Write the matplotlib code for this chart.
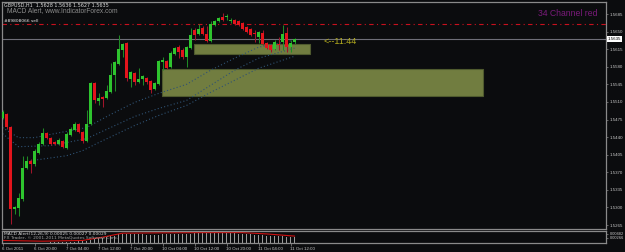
import numpy as np
import matplotlib
matplotlib.use("Agg")
import matplotlib.pyplot as plt
from matplotlib.patches import Rectangle
from matplotlib.transforms import blended_transform_factory

# GBPUSD H1 candles (open, high, low, close), 6 Oct 2011 12:00 ... 11 Oct 2011
opens = [1.5479, 1.5487, 1.5461, 1.5297, 1.5299, 1.5317, 1.5379, 1.5393, 1.5387, 1.5409,
         1.5427, 1.5449, 1.5439, 1.5431, 1.5427, 1.5433, 1.5419, 1.5445, 1.5455, 1.5467,
         1.5451, 1.5433, 1.5467, 1.5547, 1.5511, 1.5519, 1.5517, 1.5529, 1.5563, 1.5585,
         1.5613, 1.5627, 1.5555, 1.5567, 1.5549, 1.5555, 1.5557, 1.5551, 1.5535, 1.5545,
         1.5589, 1.5591, 1.5579, 1.5605, 1.5619, 1.5613, 1.5599, 1.5617, 1.5653, 1.5645,
         1.5657, 1.5645, 1.5631, 1.5663, 1.5671, 1.5679, 1.5679, 1.5671, 1.5673, 1.5671,
         1.5667, 1.5659, 1.5655, 1.5647, 1.5639, 1.5647, 1.5627, 1.5623, 1.5615, 1.5625,
         1.5629, 1.5647, 1.5619, 1.5629]
highs = [1.5493, 1.5489, 1.5463, 1.5303, 1.5329, 1.5403, 1.5403, 1.5397, 1.5417, 1.5431,
         1.5459, 1.5451, 1.5441, 1.5433, 1.5439, 1.5435, 1.5451, 1.5461, 1.5471, 1.5469,
         1.5453, 1.5493, 1.5549, 1.5549, 1.5527, 1.5521, 1.5543, 1.5587, 1.5591, 1.5643,
         1.5627, 1.5629, 1.5571, 1.5569, 1.5577, 1.5563, 1.5559, 1.5553, 1.5549, 1.5593,
         1.5599, 1.5593, 1.5611, 1.5619, 1.5623, 1.5617, 1.5621, 1.5657, 1.5657, 1.5665,
         1.5661, 1.5661, 1.5671, 1.5673, 1.5679, 1.5687, 1.5685, 1.5677, 1.5675, 1.5673,
         1.5669, 1.5661, 1.5657, 1.5653, 1.5651, 1.5653, 1.5629, 1.5625, 1.5633, 1.5639,
         1.5663, 1.5659, 1.5633, 1.5637]
lows = [1.5477, 1.5457, 1.5267, 1.5287, 1.5283, 1.5313, 1.5377, 1.5369, 1.5383, 1.5407,
        1.5425, 1.5437, 1.5425, 1.5425, 1.5425, 1.5419, 1.5417, 1.5443, 1.5453, 1.5449,
        1.5429, 1.5431, 1.5465, 1.5507, 1.5503, 1.5499, 1.5515, 1.5527, 1.5531, 1.5583,
        1.5599, 1.5551, 1.5539, 1.5543, 1.5547, 1.5543, 1.5545, 1.5527, 1.5533, 1.5543,
        1.5573, 1.5575, 1.5577, 1.5603, 1.5597, 1.5595, 1.5579, 1.5615, 1.5633, 1.5643,
        1.5643, 1.5629, 1.5629, 1.5661, 1.5669, 1.5671, 1.5673, 1.5667, 1.5663, 1.5661,
        1.5653, 1.5647, 1.5641, 1.5629, 1.5627, 1.5623, 1.5615, 1.5609, 1.5613, 1.5613,
        1.5613, 1.5609, 1.5609, 1.5625]
closes = [1.5491, 1.5461, 1.5297, 1.5301, 1.5319, 1.5379, 1.5393, 1.5387, 1.5413, 1.5427,
          1.5449, 1.5439, 1.5427, 1.5427, 1.5435, 1.5421, 1.5447, 1.5457, 1.5467, 1.5451,
          1.5433, 1.5467, 1.5547, 1.5513, 1.5517, 1.5515, 1.5531, 1.5563, 1.5589, 1.5615,
          1.5625, 1.5557, 1.5569, 1.5549, 1.5555, 1.5561, 1.5549, 1.5533, 1.5547, 1.5591,
          1.5593, 1.5577, 1.5607, 1.5617, 1.5609, 1.5599, 1.5619, 1.5643, 1.5643, 1.5655,
          1.5645, 1.5631, 1.5665, 1.5671, 1.5677, 1.5673, 1.5681, 1.5673, 1.5665, 1.5663,
          1.5655, 1.5649, 1.5643, 1.5645, 1.5649, 1.5625, 1.5617, 1.5613, 1.5629, 1.5623,
          1.5645, 1.5619, 1.5627, 1.5635]

# dotted channel lines (bar index, price)
ch_top_x = [0, 4, 8, 13, 21, 27, 33, 39, 46, 52, 58, 64, 73]
ch_top_y = [1.5459, 1.5439, 1.5439, 1.5447, 1.5459, 1.5485, 1.5509, 1.5527, 1.5545, 1.5573, 1.5597, 1.5619, 1.5633]
ch_mid_x = [0, 4, 12, 21, 27, 33, 39, 46, 52, 58, 64, 73]
ch_mid_y = [1.5447, 1.5421, 1.5423, 1.5437, 1.5459, 1.5481, 1.5497, 1.5513, 1.5543, 1.5573, 1.5597, 1.5617]
ch_low_x = [7, 16, 20, 24, 33, 39, 46, 52, 58, 64, 73]
ch_low_y = [1.5393, 1.5403, 1.5413, 1.5429, 1.5463, 1.5483, 1.5503, 1.5529, 1.5553, 1.5577, 1.5601]

# zones: (start bar, end bar, top price, bottom price)
zones = [(47.9, 76.9, 1.5625, 1.5605),
         (39.9, 120.1, 1.5575, 1.5521)]

sell_level = 1.5665
last_price = 1.5635

price_ticks = [1.5685, 1.5650, 1.5615, 1.5580, 1.5545, 1.5510, 1.5475, 1.5440,
               1.5405, 1.5370, 1.5335, 1.5300, 1.5265]
time_ticks = [0, 8, 16, 24, 32, 40, 48, 56, 64, 72]
time_labels = ["6 Oct 2011", "6 Oct 20:00", "7 Oct 04:00", "7 Oct 12:00", "7 Oct 20:00",
               "10 Oct 04:00", "10 Oct 12:00", "10 Oct 20:00", "11 Oct 04:00", "11 Oct 12:00"]

macd_hist = [-0.0002, -0.0004, -0.0012, -0.0015, -0.0016, -0.0013, -0.0010, -0.0008, -0.0005, -0.0003,
             -0.0001, 0.0000, 0.0001, 0.0001, 0.0002, 0.0002, 0.0003, 0.0004, 0.0006, 0.0007,
             0.0007, 0.0009, 0.0017, 0.0021, 0.0024, 0.0026, 0.0029, 0.0034, 0.0039, 0.0045,
             0.0049, 0.0047, 0.0047, 0.0046, 0.0046, 0.0045, 0.0044, 0.0042, 0.0041, 0.0044,
             0.0046, 0.0046, 0.0047, 0.0048, 0.0048, 0.0047, 0.0048, 0.0050, 0.0051, 0.0052,
             0.0052, 0.0051, 0.0052, 0.0053, 0.0053, 0.0053, 0.0053, 0.0052, 0.0051, 0.0050,
             0.0049, 0.0047, 0.0045, 0.0044, 0.0043, 0.0041, 0.0039, 0.0037, 0.0036, 0.0035,
             0.0035, 0.0033, 0.0032, 0.0032]
macd_sig_x = [0, 10, 20, 25, 30, 40, 50, 60, 66, 73]
macd_sig_y = [0.0012, 0.0008, 0.0012, 0.0030, 0.0052, 0.0054, 0.0055, 0.0055, 0.0048, 0.0036]

BG = "#0b0c0e"
GRID = "#8a8a8a"
BULL, BEAR = "#2ec42e", "#e3141c"
NARROW = "Liberation Sans"

fig = plt.figure(figsize=(6.25, 2.52), dpi=100, facecolor=BG)
ax = fig.add_axes([2 / 625, 23 / 252, 604 / 625, 227 / 252], facecolor=BG)
axm = fig.add_axes([2 / 625, 9 / 252, 604 / 625, 12 / 252], facecolor=BG, sharex=ax)

o = np.array(opens); h = np.array(highs); l = np.array(lows); c = np.array(closes)
idx = np.arange(len(o))
up = c >= o

# zones behind candles
for x0, x1, top, bot in zones:
    ax.add_patch(Rectangle((x0, bot), x1 - x0, top - bot, facecolor="#717d40",
                           edgecolor="#4f5a2e", lw=0.8, zorder=1))

ax.plot(ch_top_x, ch_top_y, ls=(0, (1, 2)), color="#2f5273", lw=0.8, zorder=2)
ax.plot(ch_mid_x, ch_mid_y, ls=(0, (1, 2)), color="#2f5273", lw=0.8, zorder=2)
ax.plot(ch_low_x, ch_low_y, ls=(0, (1, 2)), color="#2f5273", lw=0.8, zorder=2)

ax.vlines(idx[up], l[up], h[up], color="#1f8a25", lw=0.75, zorder=3)
ax.vlines(idx[~up], l[~up], h[~up], color="#a0142a", lw=0.75, zorder=3)
body = np.maximum(np.abs(c - o), 0.00008)
ax.bar(idx[up], body[up], bottom=np.minimum(o, c)[up], width=0.72, color=BULL, lw=0, zorder=4)
ax.bar(idx[~up], body[~up], bottom=np.minimum(o, c)[~up], width=0.72, color=BEAR, lw=0, zorder=4)

ax.axhline(sell_level, color="#c8101e", lw=0.8, ls=(0, (4, 3, 1, 3)), zorder=2)
ax.axhline(last_price, color="#6e6e78", lw=0.8, zorder=2)

ax.set_xlim(-0.125, 150.875)
ax.set_ylim(1.52572, 1.57089)

for a in (ax, axm):
    for s in a.spines.values():
        s.set_color(GRID)
        s.set_linewidth(0.9)

ax.yaxis.tick_right()
ax.set_yticks(price_ticks)
ax.set_yticklabels([f"{p:.4f}" for p in price_ticks], fontsize=3.2, color="#c8c8c8", family=NARROW)
ax.tick_params(axis="y", length=1.5, width=0.5, color=GRID, pad=1)
ax.tick_params(axis="x", bottom=False, labelbottom=False)

trans = blended_transform_factory(ax.transAxes, ax.transData)
ax.text(1.0035, last_price, f"{last_price:.4f}", transform=trans, fontsize=3.2, color="black",
        va="center", ha="left", zorder=6, family=NARROW,
        bbox=dict(boxstyle="square,pad=0.15", fc="white", ec="none"))

# MACD subwindow
axm.bar(idx, macd_hist, width=0.15, color="#9a9a9a", lw=0)
axm.plot(macd_sig_x, macd_sig_y, color="#d01010", lw=0.8)
axm.set_ylim(-0.0002, 0.0064)
axm.yaxis.tick_right()
axm.set_yticks([0.00482, 0.00266])
axm.set_yticklabels(["0.00482", "0.00266"], fontsize=2.9, color="#c8c8c8", family=NARROW)
axm.tick_params(axis="y", length=1.5, width=0.5, color=GRID, pad=1)
axm.set_xticks(time_ticks)
axm.set_xticklabels(time_labels, fontsize=3.2, color="#c8c8c8", ha="left", family=NARROW)
axm.tick_params(axis="x", length=2, width=0.5, color=GRID, pad=1)

# texts
def ftext(px, py, s, **kw):
    fig.text(px / 625, 1 - py / 252, s, **kw)

ftext(4, 5, "GBPUSD,H1  1.5628 1.5636 1.5627 1.5635", fontsize=3.5, color="#d8d8d8", va="center")
ftext(7, 11, "MACD Alert, www.IndicatorForex.com", fontsize=4.8, color="#8c8c8c", va="center",
      family=NARROW)
ftext(4, 21, "#89808066 sell", fontsize=3.2, color="#e8e8e8", va="center")
ftext(597, 13, "34 Channel red", fontsize=6.2, color="#7a1a7a", va="center", ha="right",
      family=NARROW)
ftext(324, 42, "<--11:44", fontsize=6.5, color="#b4ac1e", va="center", family=NARROW)
ftext(4, 234, "MACD Alert(12,26,9) 0.00025 0.00027 0.00029", fontsize=3.2, color="#d8d8d8", va="center")
ftext(4, 238.5, "FX Trader, © 2001-2011 MetaQuotes Software Corp.", fontsize=3.2, color="#a0a0a0", va="center")

fig.savefig("out.png", dpi=100, facecolor=BG)
